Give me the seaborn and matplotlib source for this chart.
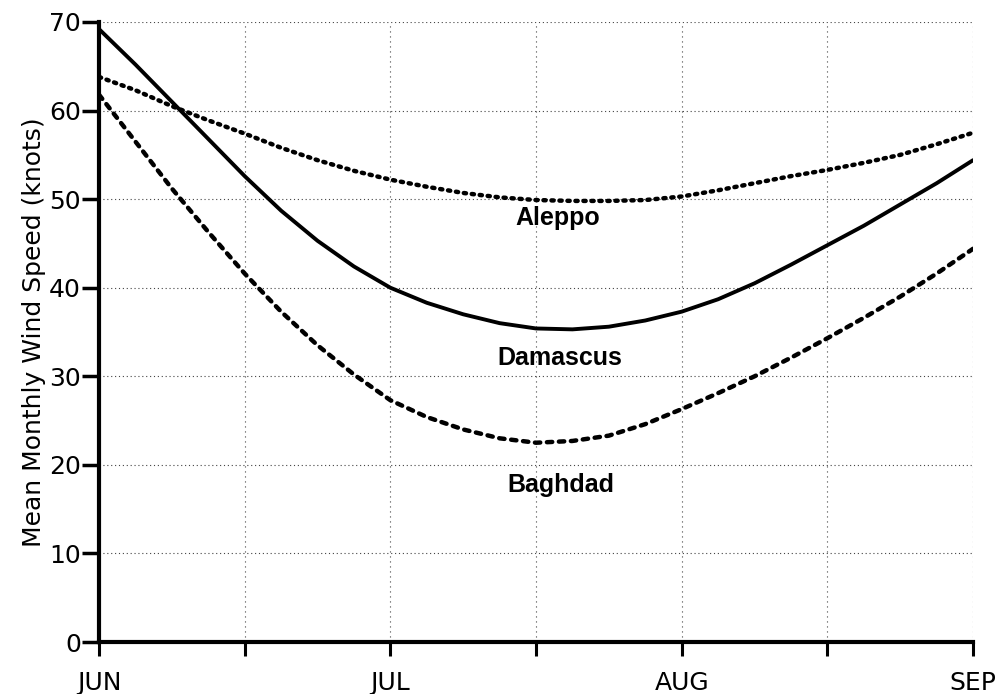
import matplotlib
matplotlib.use("Agg")
import matplotlib.pyplot as plt
import seaborn as sns
import pandas as pd

# quarter-month positions (in half-month units) from JUN (0) to SEP (6)
x_pos = [0, 0.25, 0.5, 0.75, 1, 1.25, 1.5, 1.75, 2, 2.25, 2.5, 2.75, 3,
         3.25, 3.5, 3.75, 4, 4.25, 4.5, 4.75, 5, 5.25, 5.5, 5.75, 6]
damascus = [69.2, 65.2, 61.0, 56.8, 52.6, 48.7, 45.3, 42.4, 40.0, 38.3, 37.0, 36.0, 35.4,
            35.3, 35.6, 36.3, 37.3, 38.7, 40.5, 42.6, 44.8, 47.0, 49.4, 51.8, 54.4]
aleppo = [63.8, 62.3, 60.5, 58.9, 57.4, 55.8, 54.4, 53.2, 52.2, 51.4, 50.7, 50.2, 49.9,
          49.8, 49.8, 49.9, 50.3, 51.0, 51.8, 52.6, 53.3, 54.1, 55.0, 56.2, 57.5]
baghdad = [61.8, 56.5, 51.2, 46.3, 41.6, 37.3, 33.5, 30.2, 27.3, 25.4, 24.0, 23.0, 22.5,
           22.7, 23.3, 24.6, 26.3, 28.1, 30.0, 32.1, 34.3, 36.6, 39.0, 41.6, 44.4]

x_ticks = [0, 1, 2, 3, 4, 5, 6]
x_labels = ["JUN", "", "JUL", "", "AUG", "", "SEP"]
y_ticks = [0, 10, 20, 30, 40, 50, 60, 70]
label_names = ["Aleppo", "Damascus", "Baghdad"]
label_pos = [(3.15, 47.9), (3.16, 32.1), (3.17, 17.7)]

df = pd.DataFrame({
    "x": x_pos * 3,
    "speed": damascus + aleppo + baghdad,
    "station": ["Damascus"] * len(x_pos) + ["Aleppo"] * len(x_pos) + ["Baghdad"] * len(x_pos),
})

sns.set_style("white")
plt.rcParams["font.family"] = ["DejaVu Sans"]

fig = plt.figure(figsize=(9.96, 6.94), dpi=100)
ax = fig.add_axes([0.0994, 0.0749, 0.8776, 0.8934])

for ycoord in y_ticks:
    ax.axhline(ycoord, color="#444444", lw=0.8, ls=(0, (1, 2.5)), zorder=0)
for xc in x_ticks:
    ax.axvline(xc, color="#444444", lw=0.8, ls=(0, (1, 3.5)), zorder=0)

styles = {"Damascus": (0, ()), "Aleppo": (0, (0.5, 1.3)), "Baghdad": (0, (1.2, 1.5))}
for name in ["Damascus", "Aleppo", "Baghdad"]:
    sub = df[df["station"] == name]
    sns.lineplot(data=sub, x="x", y="speed", ax=ax, color="black",
                 lw=2.8 if name == "Damascus" else 3.2, legend=False)
    l = ax.lines[-1]
    l.set_linestyle(styles[name])
    l.set_dash_capstyle("round")
    l.set_solid_capstyle("round")
    l.set_solid_joinstyle("round")

for name, (tx, ty) in zip(label_names, label_pos):
    ax.text(tx, ty, name, fontsize=18, fontweight="heavy", ha="center", va="center",
            family="Liberation Sans", color="black")

ax.set_xlim(0, 6)
ax.set_ylim(0, 70)
ax.set_xticks(x_ticks)
ax.set_xticklabels(x_labels, fontsize=18, color="black")
ax.set_yticks(y_ticks)
ax.set_yticklabels([str(v) for v in y_ticks], fontsize=18, color="black")
ax.tick_params(axis="y", left=True, direction="out", length=12, width=2.5, pad=1,
               color="black")
ax.tick_params(axis="x", bottom=True, direction="out", length=10, width=2.2, pad=11,
               color="black")
ax.set_xlabel("")
ax.set_ylabel("Mean Monthly Wind Speed (knots)", fontsize=18, labelpad=2, color="black")
for s in ["top", "right"]:
    ax.spines[s].set_visible(False)
for s in ["left", "bottom"]:
    ax.spines[s].set_linewidth(3)
    ax.spines[s].set_color("black")

fig.savefig("out.png", dpi=100)
